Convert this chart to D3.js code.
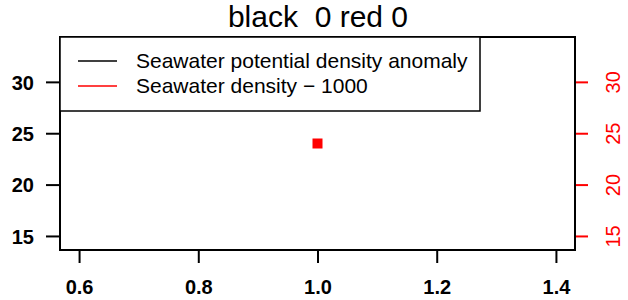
<!DOCTYPE html>
<html>
<head>
<meta charset="utf-8">
<script src="https://cdn.jsdelivr.net/npm/d3@7"></script>
<style>
  body { margin: 0; background: #fff; }
  svg { display: block; font-family: "Liberation Sans", Arial, sans-serif; }
</style>
</head>
<body>
<div id="chart"></div>
<script>
// data
const pointX = [1.0];
const pointY = [24];
const xTicks = [0.6, 0.8, 1.0, 1.2, 1.4];
const yTicks = [15, 20, 25, 30];
const legendLabels = ["Seawater potential density anomaly", "Seawater density \u2212 1000"];
const legendColors = ["black", "red"];
const title = "black  0 red 0";

const width = 628, height = 300;
const margin = { top: 37, left: 60, bottom: 50, right: 53 };
const iwidth = width - margin.left - margin.right;
const iheight = height - margin.top - margin.bottom;

const svg = d3.select("#chart").append("svg")
    .attr("width", width)
    .attr("height", height);

const x = d3.scaleLinear().domain([0.568, 1.432]).range([0, iwidth]);
const y = d3.scaleLinear().domain([13.632, 34.368]).range([iheight, 0]);

const g = svg.append("g").attr("transform", `translate(${margin.left},${margin.top})`);

// title
svg.append("text")
    .attr("x", 318)
    .attr("y", 27)
    .attr("text-anchor", "middle")
    .style("font-size", "30px")
    .style("white-space", "pre")
    .text(title);

// left axis
const yAxis = g.append("g")
    .call(d3.axisLeft(y).tickValues(yTicks).tickSize(14).tickPadding(12).tickFormat(d3.format("d")));
yAxis.select(".domain").remove();
yAxis.selectAll("line").attr("stroke-width", 2);
yAxis.selectAll("text").style("font-size", "20px").style("font-weight", "bold").attr("dy", "0.36em");

// bottom axis
const xAxis = g.append("g")
    .attr("transform", `translate(0,${iheight})`)
    .call(d3.axisBottom(x).tickValues(xTicks).tickSize(13).tickPadding(17).tickFormat(d3.format(".1f")));
xAxis.select(".domain").remove();
xAxis.selectAll("line").attr("stroke-width", 2);
xAxis.selectAll("text").style("font-size", "20px").style("font-weight", "bold");

// right axis (red)
const yAxisR = g.append("g")
    .attr("transform", `translate(${iwidth},0)`)
    .call(d3.axisRight(y).tickValues(yTicks).tickSize(13).tickSizeOuter(0).tickFormat(d3.format("d")));
yAxisR.select(".domain").remove();
yAxisR.append("line")
    .attr("x1", 0).attr("x2", 0)
    .attr("y1", y(d3.min(yTicks))).attr("y2", y(d3.max(yTicks)))
    .attr("stroke", "red").attr("stroke-width", 2);
yAxisR.selectAll("line").attr("stroke", "red").attr("stroke-width", 2);
yAxisR.selectAll(".tick text")
    .attr("fill", "red")
    .attr("x", 0).attr("y", 0).attr("dy", null)
    .attr("text-anchor", "middle")
    .attr("transform", "translate(45,0) rotate(-90)")
    .style("font-size", "20px");

// frame
g.append("rect")
    .attr("width", iwidth)
    .attr("height", iheight)
    .attr("fill", "none")
    .attr("stroke", "black")
    .attr("stroke-width", 2);

// point
g.selectAll("rect.pt").data(pointX).enter().append("rect")
    .attr("class", "pt")
    .attr("x", (d, i) => x(d) - 5)
    .attr("y", (d, i) => y(pointY[i]) - 5)
    .attr("width", 10).attr("height", 10)
    .attr("fill", "red");

// legend
const leg = g.append("g");
leg.append("rect")
    .attr("x", 0).attr("y", 0)
    .attr("width", 420).attr("height", 74)
    .attr("fill", "white").attr("stroke", "black").attr("stroke-width", 1.5);
legendLabels.forEach((lab, i) => {
    const ly = 24 + i * 25;
    leg.append("line")
        .attr("x1", 18).attr("x2", 57)
        .attr("y1", ly).attr("y2", ly)
        .attr("stroke", legendColors[i]).attr("stroke-width", 1.5);
    leg.append("text")
        .attr("x", 76).attr("y", ly)
        .attr("dy", "0.35em")
        .style("font-size", "21px")
        .text(lab);
});
</script>
</body>
</html>
